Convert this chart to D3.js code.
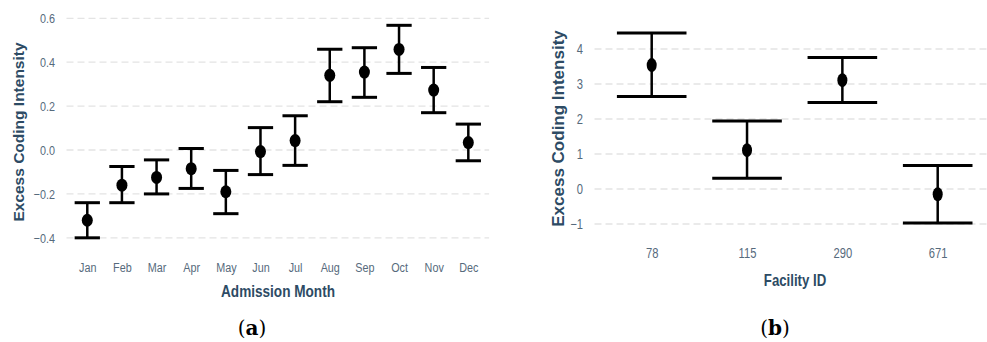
<!DOCTYPE html>
<html>
<head>
<meta charset="utf-8">
<script src="https://cdn.jsdelivr.net/npm/d3@7"></script>
<style>
  html, body { margin: 0; padding: 0; background: #fff; }
  svg { display: block; }
</style>
</head>
<body>
<svg id="chart" width="987" height="342"></svg>
<script>
// Panel (a): excess coding intensity by admission month
const months = ["Jan", "Feb", "Mar", "Apr", "May", "Jun", "Jul", "Aug", "Sep", "Oct", "Nov", "Dec"];
const monthEstimate = [-0.32, -0.16, -0.125, -0.085, -0.19, -0.007, 0.043, 0.34, 0.355, 0.458, 0.273, 0.034];
const monthLower = [-0.40, -0.24, -0.20, -0.175, -0.29, -0.112, -0.07, 0.22, 0.24, 0.349, 0.17, -0.049];
const monthUpper = [-0.24, -0.075, -0.045, 0.007, -0.093, 0.102, 0.156, 0.459, 0.466, 0.568, 0.376, 0.118];
const monthTicks = [-0.4, -0.2, 0.0, 0.2, 0.4, 0.6];

// Panel (b): excess coding intensity by facility
const facilities = ["78", "115", "290", "671"];
const facilityEstimate = [3.54, 1.11, 3.11, -0.15];
const facilityLower = [2.64, 0.31, 2.47, -0.97];
const facilityUpper = [4.46, 1.94, 3.76, 0.67];
const facilityTicks = [-1, 0, 1, 2, 3, 4];

const svg = d3.select("#chart");
const tickColor = "#566a7c";
const titleColor = "#2d4b64";
const gridColor = "#e4e4e4";
const sans = "'Liberation Sans', Arial, sans-serif";
const squeeze = 0.8; // horizontal condensing of upright labels

function panel(opts) {
  const g = svg.append("g");
  const data = opts.cats.map((c, i) => ({ c, est: opts.est[i], lo: opts.lo[i], hi: opts.hi[i] }));

  const x = d3.scalePoint().domain(opts.cats).range(opts.xRange).padding(0.6);
  const y = d3.scaleLinear().domain(opts.yDomain).range(opts.yRange);

  // dashed major gridlines
  g.append("g").selectAll("line").data(opts.ticks).join("line")
    .attr("x1", opts.xRange[0]).attr("x2", opts.xRange[1])
    .attr("y1", d => y(d)).attr("y2", d => y(d))
    .attr("stroke", gridColor).attr("stroke-width", 1.3)
    .attr("stroke-dasharray", "7,4");

  // y axis (labels only)
  const yAxis = d3.axisLeft(y).tickValues(opts.ticks).tickFormat(opts.fmt).tickSize(0).tickPadding(0);
  const ya = g.append("g").attr("transform", `translate(${opts.yLabelX},0)`).call(yAxis);
  ya.select(".domain").remove();
  ya.selectAll("text").attr("x", 0).attr("fill", tickColor).attr("font-family", sans)
    .attr("font-size", opts.tickSize).attr("transform", `scale(${squeeze},1)`);

  // x axis (labels only)
  const xAxis = d3.axisBottom(x).tickSize(0).tickPadding(0);
  const xa = g.append("g").attr("transform", `translate(0,${opts.xLabelY})`).call(xAxis);
  xa.select(".domain").remove();
  xa.selectAll("text").attr("y", 0).attr("fill", tickColor).attr("font-family", sans)
    .attr("font-size", opts.tickSize).attr("dy", "0.35em").attr("transform", `scale(${squeeze},1)`);

  const half = x.step() * 0.365;
  const bars = g.append("g").selectAll("g").data(data).join("g");
  bars.append("line")
    .attr("x1", d => x(d.c)).attr("x2", d => x(d.c))
    .attr("y1", d => y(d.lo)).attr("y2", d => y(d.hi))
    .attr("stroke", "#000").attr("stroke-width", 2.5);
  bars.append("line")
    .attr("x1", d => x(d.c) - half).attr("x2", d => x(d.c) + half)
    .attr("y1", d => y(d.hi)).attr("y2", d => y(d.hi))
    .attr("stroke", "#000").attr("stroke-width", 3);
  bars.append("line")
    .attr("x1", d => x(d.c) - half).attr("x2", d => x(d.c) + half)
    .attr("y1", d => y(d.lo)).attr("y2", d => y(d.lo))
    .attr("stroke", "#000").attr("stroke-width", 3);
  bars.append("ellipse")
    .attr("cx", d => x(d.c)).attr("cy", d => y(d.est))
    .attr("rx", opts.rx).attr("ry", opts.ry)
    .attr("fill", "#000");

  // axis titles
  g.append("g").attr("transform", `translate(${opts.xTitle[0]},${opts.xTitle[1]}) scale(${squeeze},1)`)
    .append("text")
    .attr("text-anchor", "middle").attr("dy", "0.35em")
    .attr("font-family", sans).attr("font-weight", "bold")
    .attr("font-size", opts.xTitleSize).attr("fill", titleColor)
    .text(opts.xTitleText);
  g.append("text")
    .attr("transform", `translate(${opts.yTitle[0]},${opts.yTitle[1]}) rotate(-90)`)
    .attr("text-anchor", "middle").attr("dy", "0.35em")
    .attr("font-family", sans).attr("font-weight", "bold")
    .attr("font-size", opts.yTitleSize).attr("fill", titleColor)
    .text("Excess Coding Intensity");

  // panel caption
  const cap = g.append("text")
    .attr("x", opts.caption[0]).attr("y", opts.caption[1])
    .attr("text-anchor", "middle").attr("dy", "0.35em")
    .attr("font-family", "'DejaVu Serif', 'Liberation Serif', serif")
    .attr("font-size", 20).attr("fill", "#000");
  cap.append("tspan").text("(");
  cap.append("tspan").attr("font-weight", "bold").text(opts.captionLetter);
  cap.append("tspan").text(")");
}

panel({
  cats: months, est: monthEstimate, lo: monthLower, hi: monthUpper, ticks: monthTicks,
  fmt: d3.format(".1f"),
  xRange: [66.5, 489.1], yDomain: [-0.45, 0.62], yRange: [248.8, 13.9],
  yLabelX: 55, xLabelY: 267, tickSize: 13.5,
  rx: 5.5, ry: 6.5,
  xTitle: [278, 291], xTitleSize: 17, xTitleText: "Admission Month",
  yTitle: [19, 132], yTitleSize: 15.5,
  caption: [252, 328], captionLetter: "a"
});

panel({
  cats: facilities, est: facilityEstimate, lo: facilityLower, hi: facilityUpper, ticks: facilityTicks,
  fmt: d3.format("d"),
  xRange: [594.5, 994.9], yDomain: [-1.2, 4.7], yRange: [231, 24.5],
  yLabelX: 583, xLabelY: 253.5, tickSize: 14,
  rx: 5, ry: 7,
  xTitle: [795, 280], xTitleSize: 16.5, xTitleText: "Facility ID",
  yTitle: [558, 128.5], yTitleSize: 17,
  caption: [775, 328], captionLetter: "b"
});
</script>
</body>
</html>
